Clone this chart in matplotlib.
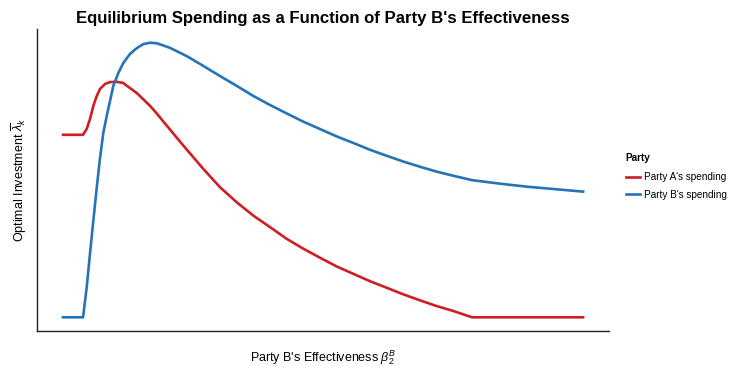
import matplotlib
matplotlib.use("Agg")
import matplotlib.pyplot as plt

plt.rcParams["font.family"] = ["Liberation Sans", "DejaVu Sans"]
plt.rcParams["mathtext.fontset"] = "custom"
plt.rcParams["mathtext.rm"] = "Liberation Sans"
plt.rcParams["mathtext.it"] = "Liberation Sans:italic"

# effectiveness (relative scale 0..1) and optimal investment (relative scale)
x_a = [0.0, 0.0385, 0.0456, 0.0519, 0.0583, 0.0648, 0.0712, 0.0808, 0.0904, 0.1033,
       0.1154, 0.1288, 0.1417, 0.1538, 0.1673, 0.1802, 0.1923, 0.2058, 0.2250, 0.2379,
       0.2698, 0.3019, 0.3340, 0.3660, 0.3981, 0.4302, 0.4621, 0.4942, 0.5263, 0.5583,
       0.5904, 0.6225, 0.6544, 0.6865, 0.7187, 0.7506, 0.7865, 1.0]
y_a = [0.668, 0.668, 0.690, 0.726, 0.774, 0.810, 0.836, 0.854, 0.861, 0.862,
       0.858, 0.839, 0.821, 0.799, 0.774, 0.746, 0.718, 0.687, 0.643, 0.614,
       0.543, 0.476, 0.421, 0.372, 0.330, 0.287, 0.251, 0.218, 0.186, 0.159,
       0.132, 0.108, 0.084, 0.062, 0.041, 0.023, 0.0, 0.0]

x_b = [0.0, 0.0385, 0.0456, 0.0519, 0.0583, 0.0648, 0.0712, 0.0775, 0.0840, 0.0904,
       0.0967, 0.1063, 0.1160, 0.1288, 0.1417, 0.1544, 0.1673, 0.1802, 0.1929, 0.2058,
       0.2379, 0.2698, 0.3019, 0.3340, 0.3660, 0.3981, 0.4302, 0.4621, 0.4942, 0.5263,
       0.5583, 0.5904, 0.6225, 0.6544, 0.6865, 0.7187, 0.7506, 0.7865, 0.8404, 0.8923,
       0.9462, 1.0]
y_b = [0.0, 0.0, 0.111, 0.234, 0.354, 0.474, 0.584, 0.675, 0.737, 0.792,
       0.847, 0.894, 0.931, 0.964, 0.985, 1.000, 1.005, 1.003, 0.995, 0.986,
       0.956, 0.920, 0.883, 0.847, 0.810, 0.777, 0.746, 0.716, 0.689, 0.662,
       0.638, 0.613, 0.591, 0.570, 0.551, 0.533, 0.518, 0.502, 0.489, 0.478,
       0.469, 0.460]

labels = ["Party A's spending", "Party B's spending"]
colors = ["#CD1E24", "#2574B7"]

fig = plt.figure(figsize=(7.33, 3.67), dpi=100)
ax = fig.add_axes([0.0505, 0.098, 0.7805, 0.823])

ax.plot(x_a, y_a, color=colors[0], lw=1.9, label=labels[0])
ax.plot(x_b, y_b, color=colors[1], lw=1.9, label=labels[1])
ax.margins(x=0.05, y=0.05)

ax.set_xticks([])
ax.set_yticks([])
for s in ["top", "right"]:
    ax.spines[s].set_visible(False)
for s in ["left", "bottom"]:
    ax.spines[s].set_linewidth(1.0)
    ax.spines[s].set_color("#222222")

ax.set_title("Equilibrium Spending as a Function of Party B's Effectiveness",
             fontsize=12.1, fontweight="bold", pad=4.5)
ax.set_xlabel(r"Party B's Effectiveness $\beta_2^B$", fontsize=9, labelpad=12.5)
ax.set_ylabel(r"Optimal Investment $\overline{\lambda}_k$", fontsize=9, labelpad=6)

# legend title placed by hand, legend entries below it
fig.text(625 / 733, 1 - 158 / 367, "Party", fontsize=7.2, fontweight="bold",
         ha="left", va="center")
fig.legend(loc="upper left", bbox_to_anchor=(626 / 733, 1 - 172 / 367), frameon=False,
           fontsize=7.2, borderpad=0, borderaxespad=0,
           handlelength=1.35, handletextpad=0.5, labelspacing=0.75)

fig.savefig("out.png", dpi=100)
